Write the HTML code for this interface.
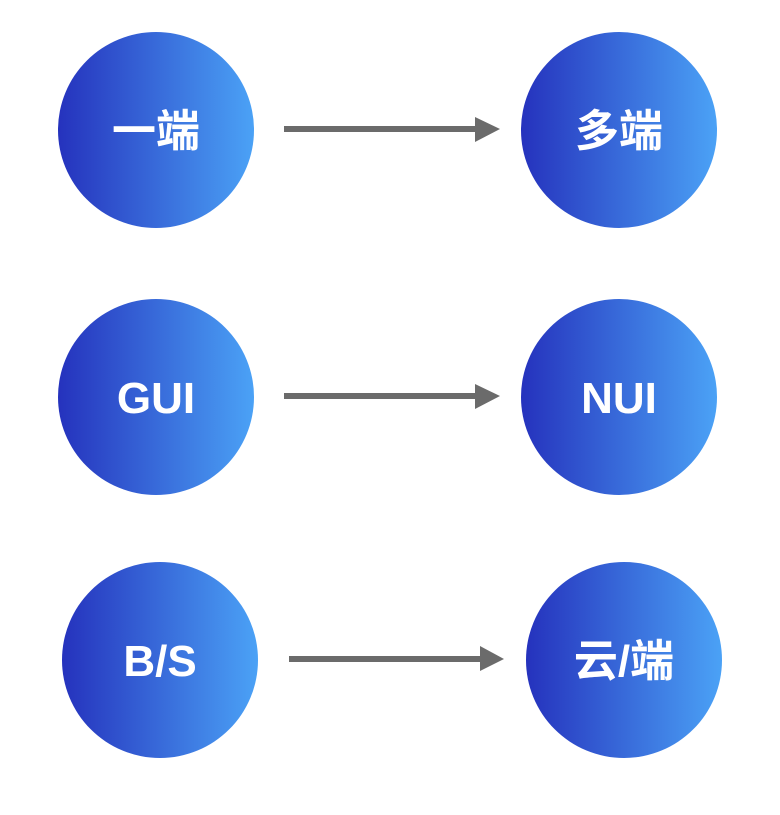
<!DOCTYPE html>
<html><head><meta charset="utf-8"><style>
body{margin:0;background:#fff;}
</style></head><body>
<svg width="780" height="810" xmlns="http://www.w3.org/2000/svg">
<defs><linearGradient id="g" x1="0" y1="0" x2="1" y2="0">
<stop offset="0" stop-color="#2532bd"/><stop offset="1" stop-color="#4ba2f6"/></linearGradient></defs>
<g fill="url(#g)">
<circle cx="156" cy="130" r="98"/><circle cx="619" cy="130" r="98"/>
<circle cx="156" cy="397" r="98"/><circle cx="619" cy="397" r="98"/>
<circle cx="160" cy="660" r="98"/><circle cx="624" cy="660" r="98"/>
</g>
<g fill="#6b6b6b">
<rect x="284" y="126" width="192" height="6"/><polygon points="475,117 500,129 475,142"/>
<rect x="284" y="393" width="192" height="6"/><polygon points="475,384 500,396 475,409"/>
<rect x="289" y="656" width="192" height="6"/><polygon points="480,646 504,659 480,671"/>
</g>
<g fill="#fff" font-family="Liberation Sans, Noto Sans CJK SC, sans-serif" font-weight="bold" font-size="44" text-anchor="middle">
<text x="156" y="146">一端</text><text x="619" y="146">多端</text>
<text x="156" y="413">GUI</text><text x="619" y="413">NUI</text>
<text x="160" y="676">B/S</text><text x="624" y="676">云/端</text>
</g>
</svg>
</body></html>
